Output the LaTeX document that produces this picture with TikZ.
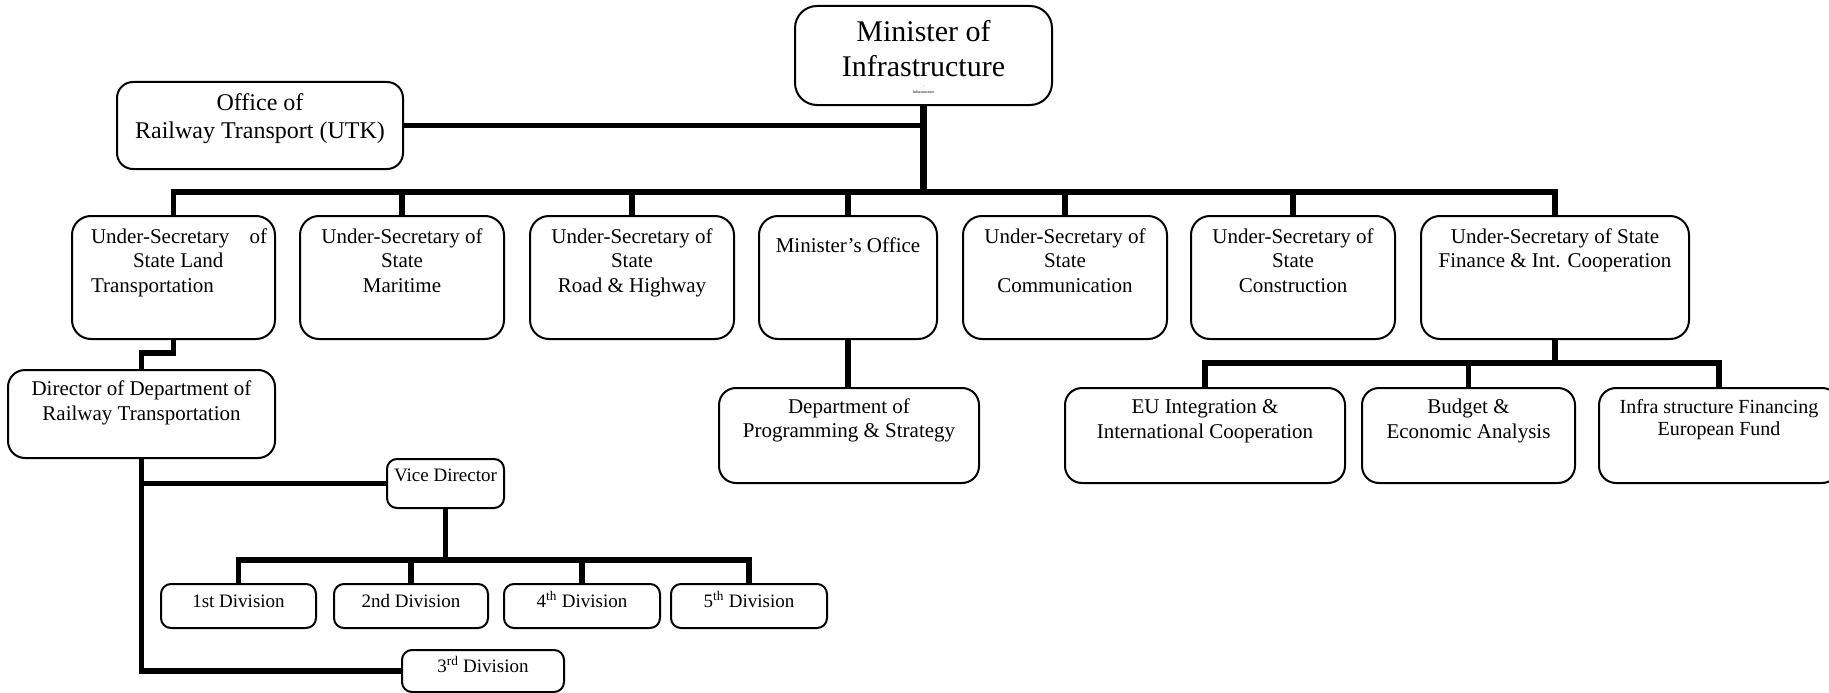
\documentclass[tikz,border=0pt]{standalone}
\usepackage{fontspec}
\setmainfont{Liberation Serif}
% box text: width, height, baseline offset of first line, lines
\newcommand\cell[4]{\parbox[c][#2][t]{#1}{\centering\rule{0pt}{#3}#4\par}}
\begin{document}
\begin{tikzpicture}[x=1pt,y=-1pt,
  orgbox/.style={draw, line width=2pt, rounded corners=#1, inner sep=0pt, outer sep=0pt},
  orgbox/.default=19pt,
  txtA/.style={font=\fontsize{21}{24.5}\selectfont},
  txtB/.style={font=\fontsize{19}{22}\selectfont},
  link/.style={line width=5.5pt, line join=miter},
  trunk/.style={line width=7pt}]
\useasboundingbox (0,0) rectangle (1829,693);

% top level
\node[orgbox=22pt, font=\fontsize{30}{35}\selectfont] (min) at (923.5,55.5)
  {\cell{257pt}{99pt}{36pt}{Minister of\\Infrastructure\par
   \fontsize{4}{6}\selectfont\vspace{5pt}-\\Infrastructure}};
\node[orgbox=16pt, font=\fontsize{24}{28}\selectfont] (office) at (260,125.5)
  {\cell{286pt}{87pt}{28pt}{Office of\\Railway Transport (UTK)}};

% under-secretaries
\node[orgbox, txtA] (lt) at (173.5,277.5)
  {\parbox[c][123pt][t]{203pt}{\rule{0pt}{27pt}\hspace*{19pt}\makebox[176pt][s]{Under-Secretary\hfill of}\\
   \hspace*{61pt}State Land\\\hspace*{19pt}Transportation\par}};
\node[orgbox, txtA] (mar) at (402,277.5) {\cell{204pt}{123pt}{27pt}{Under-Secretary of\\State\\Maritime}};
\node[orgbox, txtA] (road) at (632,277.5) {\cell{204pt}{123pt}{27pt}{Under-Secretary of\\State\\Road \& Highway}};
\node[orgbox, txtA] (mo) at (848,277.5) {\cell{178pt}{123pt}{36pt}{Minister’s Office}};
\node[orgbox, txtA] (com) at (1065,277.5) {\cell{204pt}{123pt}{27pt}{Under-Secretary of\\State\\Communication}};
\node[orgbox, txtA] (con) at (1293,277.5) {\cell{204pt}{123pt}{27pt}{Under-Secretary of\\State\\Construction}};
\node[orgbox, txtA] (fin) at (1555,277.5) {\cell{268pt}{123pt}{27pt}{Under-Secretary of State\\Finance \& Int. Cooperation}};

% railway department
\node[orgbox=17pt, font=\fontsize{21}{25}\selectfont] (dir) at (141.5,414)
  {\cell{267pt}{88pt}{25pt}{Director of Department of\\Railway Transportation}};
\node[orgbox=10pt, txtB] (vd) at (445.5,483.5) {\cell{117pt}{49pt}{22pt}{Vice Director}};
\node[orgbox=10pt, txtB] (div1) at (238.5,606) {\cell{155pt}{44pt}{23pt}{1st Division}};
\node[orgbox=10pt, txtB] (div2) at (411,606) {\cell{154pt}{44pt}{23pt}{2nd Division}};
\node[orgbox=10pt, txtB] (div4) at (582,606) {\cell{156pt}{44pt}{23pt}{4\textsuperscript{th} Division}};
\node[orgbox=10pt, txtB] (div5) at (749,606) {\cell{156pt}{44pt}{23pt}{5\textsuperscript{th} Division}};
\node[orgbox=10pt, txtB] (div3) at (483,671) {\cell{162pt}{42pt}{22pt}{3\textsuperscript{rd} Division}};

% programming and finance departments
\node[orgbox=17pt, txtA] (dept) at (849,435.5) {\cell{260pt}{95pt}{25pt}{Department of\\Programming \& Strategy}};
\node[orgbox=17pt, font=\fontsize{21}{25}\selectfont] (eu) at (1205,435.5) {\cell{280pt}{95pt}{25pt}{EU Integration \&\\International Cooperation}};
\node[orgbox=17pt, font=\fontsize{21}{25}\selectfont] (bud) at (1468.5,435.5) {\cell{213pt}{95pt}{25pt}{Budget \&\\Economic Analysis}};
\node[orgbox=17pt, font=\fontsize{20}{22}\selectfont] (inf) at (1719,435.5) {\cell{240pt}{95pt}{25pt}{Infra structure Financing\\European Fund}};

% connectors
\coordinate (tbus) at (0,192);
\coordinate (dbus) at (0,560);
\coordinate (fbus) at (0,363);
\draw[trunk] (min.south) -- (min.south |- tbus);
\draw[link] (office.east) -- (office.east -| min.south);
\draw[link] (lt.north) -- (lt.north |- tbus) -- (fin.north |- tbus) -- (fin.north);
\foreach \n in {mar,road,mo,com,con} \draw[link] (\n.north) -- (\n.north |- tbus);
\draw[link] (lt.south) -- ++(0,14) -| (dir.north);
\draw[link] (dir.south) |- (div3.west);
\draw[link] (dir.south |- vd.west) -- (vd.west);
\draw[link] (vd.south) -- (vd.south |- dbus);
\draw[link] (div1.north) -- (div1.north |- dbus) -- (div5.north |- dbus) -- (div5.north);
\foreach \n in {div2,div4} \draw[link] (\n.north) -- (\n.north |- dbus);
\draw[link] (mo.south) -- (mo.south |- dept.north);
\draw[link] (fin.south) -- (fin.south |- fbus);
\draw[link] (eu.north) -- (eu.north |- fbus) -- (inf.north |- fbus) -- (inf.north);
\draw[link] (bud.north) -- (bud.north |- fbus);
\end{tikzpicture}
\end{document}
